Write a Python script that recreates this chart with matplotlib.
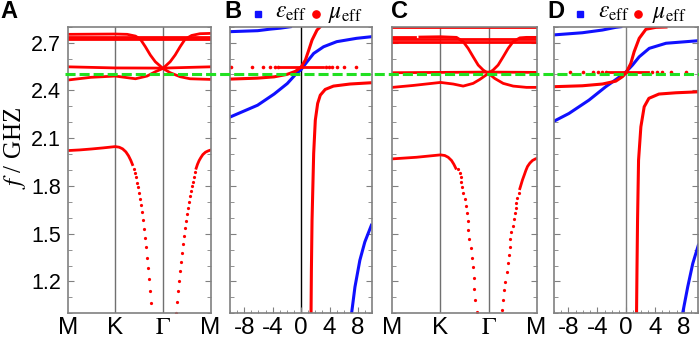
import matplotlib
matplotlib.use("Agg")
import matplotlib.pyplot as plt
import matplotlib.transforms as mtransforms
from matplotlib.lines import Line2D
from matplotlib.ticker import FixedLocator, MultipleLocator, FormatStrFormatter

plt.rcParams["font.family"] = ["Liberation Sans", "DejaVu Sans"]
plt.rcParams["mathtext.fontset"] = "stix"

# ---------------- data ----------------
f_ticks = [1.2, 1.5, 1.8, 2.1, 2.4, 2.7]
f_green = 2.5
k_ticks = [0, 1, 2, 3]
k_labels = ["M", "K", r"$\Gamma$", "M"]
p_ticks = [-8, -4, 0, 4, 8]
p_labels = ["-8", "-4", "0", "4", "8"]

# panel A : band structure
kA_b1 = [0, 0.5, 1.0, 1.25, 1.424, 1.528, 1.632, 1.736, 1.84, 2.0, 2.153, 2.257, 2.361, 2.465, 2.604, 2.778, 3.0]
fA_b1 = [2.752, 2.753, 2.754, 2.752, 2.741, 2.721, 2.674, 2.622, 2.580, 2.538, 2.580, 2.622, 2.674, 2.721, 2.745, 2.756, 2.758]
kA_flat = [0, 3]
fA_flat1 = [2.735, 2.735]
fA_flat2 = [2.721, 2.721]
kA_b3 = [0, 1, 2, 3]
fA_b3 = [2.548, 2.541, 2.540, 2.548]
kA_b4 = [0, 0.486, 1.0, 1.424, 1.667, 1.84, 2.0, 2.153, 2.361, 2.569, 3.0]
fA_b4 = [2.465, 2.482, 2.490, 2.473, 2.490, 2.517, 2.538, 2.511, 2.486, 2.473, 2.469]
kA_low1 = [0.0, 0.25, 0.5, 0.75, 1.0, 1.083, 1.153, 1.222, 1.278, 1.326, 1.361]
fA_low1 = [2.022, 2.026, 2.032, 2.039, 2.047, 2.043, 2.033, 2.014, 1.989, 1.960, 1.934]
kA_dots1 = [1.389, 1.41, 1.431, 1.451, 1.472, 1.493, 1.514, 1.535, 1.556, 1.576, 1.597, 1.618,
            1.639, 1.66, 1.681, 1.701, 1.722, 1.75]
fA_dots1 = [1.909, 1.884, 1.853, 1.821, 1.792, 1.758, 1.721, 1.679, 1.637, 1.586, 1.530, 1.473,
            1.414, 1.350, 1.284, 1.213, 1.138, 1.062]
kA_dots2 = [2.266, 2.287, 2.308, 2.329, 2.35, 2.371, 2.392, 2.413, 2.434, 2.455, 2.476, 2.497,
            2.517, 2.538, 2.559, 2.58, 2.601, 2.622, 2.65, 2.671]
fA_dots2 = [1.004, 1.071, 1.138, 1.203, 1.264, 1.322, 1.381, 1.435, 1.486, 1.534, 1.58, 1.624,
            1.664, 1.702, 1.735, 1.769, 1.798, 1.827, 1.859, 1.886]
kA_low2 = [2.699, 2.727, 2.762, 2.797, 2.839, 2.895, 2.951, 3.0]
fA_low2 = [1.911, 1.936, 1.96, 1.978, 1.997, 2.012, 2.02, 2.025]

# panel C : band structure
kC_top = [0, 3]
fC_top = [2.795, 2.795]
kC_dash = [0, 0.47]
fC_dash = [2.735, 2.735]
kC_b1 = [0.57, 1.0, 1.333, 1.472, 1.576, 1.68, 1.785, 1.889, 1.993, 2.097, 2.2, 2.306, 2.41, 2.514, 2.653, 2.79, 3.0]
fC_b1 = [2.735, 2.737, 2.733, 2.706, 2.664, 2.611, 2.559, 2.528, 2.507, 2.528, 2.559, 2.611, 2.664, 2.706, 2.730, 2.733, 2.733]
kC_flat = [0, 3]
fC_flat1 = [2.720, 2.720]
fC_flat2 = [2.702, 2.702]
kC_b3 = [0, 1, 2, 3]
fC_b3 = [2.511, 2.513, 2.515, 2.513]
kC_b4 = [0, 0.43, 1.0, 1.264, 1.472, 1.68, 1.82, 2.0, 2.13, 2.306, 2.514, 2.79, 3.0]
fC_b4 = [2.419, 2.431, 2.450, 2.440, 2.427, 2.444, 2.469, 2.507, 2.475, 2.444, 2.427, 2.419, 2.419]
kC_low1 = [0, 0.5, 1.0, 1.09, 1.16, 1.229, 1.278, 1.319]
fC_low1 = [1.970, 1.980, 1.995, 1.991, 1.980, 1.960, 1.936, 1.911]
kC_dots1 = [1.375, 1.396, 1.417, 1.4375, 1.458, 1.479, 1.5, 1.521, 1.542, 1.5625, 1.583, 1.604,
            1.625, 1.646, 1.667, 1.6875, 1.708, 1.729, 1.75]
fC_dots1 = [1.907, 1.884, 1.855, 1.823, 1.792, 1.754, 1.716, 1.674, 1.628, 1.582, 1.523, 1.465,
            1.408, 1.349, 1.289, 1.222, 1.152, 1.081, 1.010]
kC_dots2 = [2.285, 2.306, 2.333, 2.354, 2.375, 2.396, 2.417, 2.4375, 2.458, 2.479, 2.5, 2.521,
            2.542, 2.5625, 2.583, 2.604, 2.625]
fC_dots2 = [1.020, 1.083, 1.146, 1.199, 1.257, 1.314, 1.366, 1.419, 1.465, 1.509, 1.551, 1.591,
            1.628, 1.662, 1.695, 1.725, 1.754]
kC_low2 = [2.653, 2.681, 2.708, 2.743, 2.778, 2.8125, 2.861, 2.917, 2.979, 3.0]
fC_low2 = [1.783, 1.811, 1.838, 1.867, 1.897, 1.922, 1.943, 1.960, 1.970, 1.972]

# panel B : effective parameters
eB_eps_top = [-9.9, -6.1, -4.3, -2.9, -1.5]
fB_eps_top = [2.769, 2.775, 2.785, 2.791, 2.80]
eB_eps_mid = [-9.92, -6.12, -3.80, -1.95, -0.79, 0, 0.83, 1.76, 3.15, 5.0, 7.79, 9.87]
fB_eps_mid = [2.234, 2.307, 2.377, 2.443, 2.500, 2.531, 2.580, 2.632, 2.674, 2.706, 2.727, 2.737]
eB_eps_low = [7.09, 7.56, 8.25, 8.95, 9.87]
fB_eps_low = [1.0, 1.165, 1.333, 1.448, 1.553]
eB_mu_up = [-9.92, -6.12, -3.80, -1.95, -0.79, 0, 0.60, 1.07, 1.53, 2.23, 2.69]
fB_mu_up = [2.471, 2.477, 2.485, 2.501, 2.520, 2.547, 2.591, 2.653, 2.716, 2.779, 2.80]
eB_mu_low = [1.39, 1.44, 1.53, 1.76, 1.99, 2.32, 2.69, 3.38, 4.54, 6.86, 9.87]
fB_mu_low = [1.0, 1.27, 1.584, 2.004, 2.213, 2.318, 2.370, 2.406, 2.427, 2.440, 2.448]
fB_mu_flat = 2.548
eB_mu_flat_dense = [-3.0, 3.1]
eB_mu_flat_dots = [-9.8, -6.9, -5.4, -4.4, -3.7, -3.3, 3.5, 3.9, 4.3, 5.0, 6.0, 7.7]

# panel D : effective parameters
eD_eps_top = [-10.15, -6.07, -3.29, -1.44, -0.74]
fD_eps_top = [2.748, 2.762, 2.779, 2.796, 2.80]
eD_eps_mid = [-10.15, -7.93, -5.15, -2.83, -1.21, 0, 0.88, 1.81, 3.2, 5.52, 10.0]
fD_eps_mid = [2.203, 2.255, 2.339, 2.423, 2.475, 2.517, 2.559, 2.611, 2.664, 2.696, 2.712]
eD_eps_low = [7.83, 8.53, 9.23, 10.0]
fD_eps_low = [1.0, 1.165, 1.312, 1.427]
eD_mu_up = [-10.15, -6.07, -3.29, -1.44, -0.51, 0, 0.65, 1.11, 1.81, 2.74, 4.13, 5.52]
fD_mu_up = [2.423, 2.429, 2.440, 2.458, 2.486, 2.511, 2.570, 2.643, 2.727, 2.784, 2.796, 2.798]
eD_mu_low = [1.44, 1.50, 1.58, 1.72, 2.04, 2.5, 3.15, 4.54, 6.9, 10.0]
fD_mu_low = [1.0, 1.27, 1.584, 1.962, 2.171, 2.297, 2.350, 2.377, 2.385, 2.391]
fD_mu_flat = 2.517
eD_mu_flat_dense = [-2.5, 3.0]
eD_mu_flat_dots = [-7.8, -6.0, -4.6, -3.9, -3.3, -2.8, 3.6, 4.3, 5.0, 6.2, 8.3]

# ---------------- drawing ----------------
RED = "#ff0000"
BLUE = "#1010ff"
GREEN = "#22e022"
GRAY = "#808080"

W, H = 699, 340
fig = plt.figure(figsize=(W / 100, H / 100), dpi=100)


def px_rect(left, right, top=26.7, bottom=313.3):
    return [left / W, 1 - bottom / H, (right - left) / W, (bottom - top) / H]


axA = fig.add_axes(px_rect(67.7, 210.5))
axB = fig.add_axes(px_rect(230, 372.3))
axC = fig.add_axes(px_rect(392.5, 536.5))
axD = fig.add_axes(px_rect(554, 698.3))


def common(ax, show_labels):
    for s in ax.spines.values():
        s.set_color(GRAY)
        s.set_linewidth(1.2)
    ax.set_ylim(1.0, 2.8)
    ax.yaxis.set_major_locator(FixedLocator(f_ticks))
    ax.yaxis.set_minor_locator(MultipleLocator(0.1))
    ax.yaxis.set_major_formatter(FormatStrFormatter("%.1f"))
    ax.tick_params(axis="y", which="both", direction="in", left=True, right=True,
                   color=GRAY, labelsize=15.5, pad=5, labelleft=show_labels)
    ax.tick_params(axis="y", which="major", length=4)
    ax.tick_params(axis="y", which="minor", length=3)


def band_axes(ax):
    ax.set_xlim(0, 3)
    ax.set_xticks(k_ticks)
    ax.set_xticklabels(k_labels)
    ax.tick_params(axis="x", length=0, labelsize=17.5, pad=3)
    for k in k_ticks[1:3]:
        ax.axvline(k, color="#707070", lw=1.0, zorder=1)


def param_axes(ax, zero_color):
    ax.set_xlim(-10, 10)
    ax.set_xticks(p_ticks)
    ax.set_xticklabels(p_labels)
    ax.xaxis.set_minor_locator(MultipleLocator(1))
    ax.tick_params(axis="x", which="both", direction="in", color=GRAY, labelsize=17.5, pad=3)
    ax.tick_params(axis="x", which="major", length=4)
    ax.tick_params(axis="x", which="minor", length=2.5)
    ax.axvline(0, color=zero_color, lw=1.0, zorder=1)


lw = 2.0
ms = 2.3

# A
common(axA, True)
band_axes(axA)
axA.plot(kA_b1, fA_b1, color=RED, lw=lw)
axA.plot(kA_flat, fA_flat1, color=RED, lw=lw)
axA.plot(kA_flat, fA_flat2, color=RED, lw=lw)
axA.plot(kA_b3, fA_b3, color=RED, lw=lw)
axA.plot(kA_b4, fA_b4, color=RED, lw=lw)
axA.plot(kA_low1, fA_low1, color=RED, lw=lw)
axA.plot(kA_low2, fA_low2, color=RED, lw=lw)
axA.plot(kA_dots1, fA_dots1, "o", color=RED, ms=ms, mew=0)
axA.plot(kA_dots2, fA_dots2, "o", color=RED, ms=ms, mew=0)

# C
common(axC, False)
band_axes(axC)
axC.plot(kC_top, fC_top, color=RED, lw=lw)
axC.plot(kC_dash, fC_dash, color=RED, lw=lw)
axC.plot(kC_b1, fC_b1, color=RED, lw=lw)
axC.plot(kC_flat, fC_flat1, color=RED, lw=lw)
axC.plot(kC_flat, fC_flat2, color=RED, lw=lw)
axC.plot(kC_b3, fC_b3, color=RED, lw=lw)
axC.plot(kC_b4, fC_b4, color=RED, lw=lw)
axC.plot(kC_low1, fC_low1, color=RED, lw=lw)
axC.plot(kC_low2, fC_low2, color=RED, lw=lw)
axC.plot(kC_dots1, fC_dots1, "o", color=RED, ms=ms, mew=0)
axC.plot(kC_dots2, fC_dots2, "o", color=RED, ms=ms, mew=0)

# B
common(axB, False)
param_axes(axB, "black")
axB.plot(eB_eps_top, fB_eps_top, color=BLUE, lw=2.2)
axB.plot(eB_eps_mid, fB_eps_mid, color=BLUE, lw=2.2)
axB.plot(eB_eps_low, fB_eps_low, color=BLUE, lw=2.2)
axB.plot(eB_mu_up, fB_mu_up, color=RED, lw=2.2)
axB.plot(eB_mu_low, fB_mu_low, color=RED, lw=2.2)
axB.plot(eB_mu_flat_dense, [fB_mu_flat] * 2, color=RED, lw=2.0)
axB.plot(eB_mu_flat_dots, [fB_mu_flat] * len(eB_mu_flat_dots), "o", color=RED, ms=2.6, mew=0)

# D
common(axD, False)
param_axes(axD, GRAY)
axD.plot(eD_eps_top, fD_eps_top, color=BLUE, lw=2.2)
axD.plot(eD_eps_mid, fD_eps_mid, color=BLUE, lw=2.2)
axD.plot(eD_eps_low, fD_eps_low, color=BLUE, lw=2.2)
axD.plot(eD_mu_up, fD_mu_up, color=RED, lw=2.2)
axD.plot(eD_mu_low, fD_mu_low, color=RED, lw=2.2)
axD.plot(eD_mu_flat_dense, [fD_mu_flat] * 2, color=RED, lw=2.0)
axD.plot(eD_mu_flat_dots, [fD_mu_flat] * len(eD_mu_flat_dots), "o", color=RED, ms=2.6, mew=0)

# green reference frequency across all panels
trans = mtransforms.blended_transform_factory(fig.transFigure, axA.transData)
fig.add_artist(Line2D([65 / W, 1.0], [f_green, f_green], transform=trans,
                      color=GREEN, lw=2.2, dashes=(3.3, 1.3)))

# y label
fig.text(15 / W, 1 - 148 / H, r"$f$ / GHZ", rotation=90, fontsize=18,
         family="Liberation Serif", ha="center", va="center")

# panel letters
for x, s in [(0, "A"), (224, "B"), (391, "C"), (547, "D")]:
    fig.text(x / W, 1 - 18 / H, s, fontsize=17, fontweight="bold", va="baseline", ha="left")

# legends of B and D
for sq_x, eps_x, ci_x, mu_x in [(258, 275, 316, 328), (580, 598, 638, 652)]:
    fig.add_artist(Line2D([sq_x / W], [1 - 14 / H], transform=fig.transFigure,
                          marker="s", color=BLUE, ms=4.5, ls="none"))
    fig.add_artist(Line2D([ci_x / W], [1 - 14 / H], transform=fig.transFigure,
                          marker="o", color=RED, ms=5.2, ls="none"))
    fig.text(eps_x / W, 1 - 18 / H, r"$\varepsilon_{\rm eff}$", fontsize=17, va="baseline", ha="left")
    fig.text(mu_x / W, 1 - 18 / H, r"$\mu_{\rm eff}$", fontsize=17, va="baseline", ha="left")

fig.savefig("out.png", dpi=100)
